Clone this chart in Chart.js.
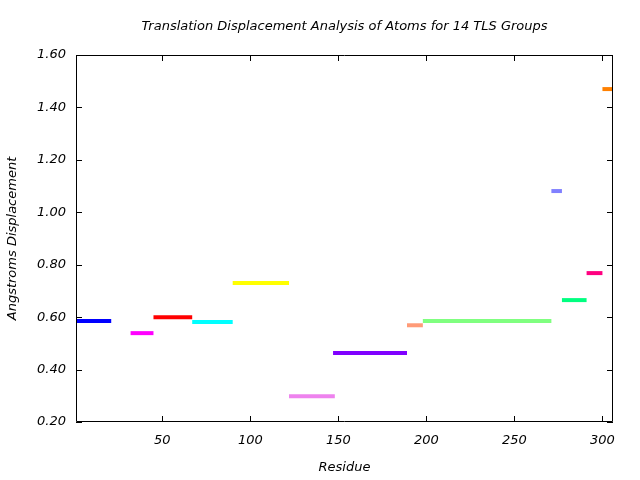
<!DOCTYPE html>
<html>
<head>
<meta charset="utf-8">
<script src="https://cdn.jsdelivr.net/npm/chart.js@4"></script>
<style>
html,body{margin:0;padding:0;background:#fff;}
#wrap{width:640px;height:480px;}
</style>
</head>
<body>
<div id="wrap"><canvas id="c" width="640" height="480"></canvas></div>
<script>
const chartTitle = "Translation Displacement Analysis of Atoms for 14 TLS Groups";
const xTitle = "Residue";
const yTitle = "Angstroms Displacement";
const groupStarts = [1, 32, 45, 67, 90, 122, 147, 189, 198, 271, 277, 291, 300];
const groupEnds   = [21, 45, 67, 90, 122, 148, 189, 198, 271, 277, 291, 300, 307];
const groupValues = [0.585, 0.539, 0.600, 0.581, 0.730, 0.298, 0.463, 0.569, 0.585, 1.081, 0.665, 0.768, 1.470];
const groupColors = ["#0000ff", "#ff00ff", "#ff0000", "#00ffff", "#ffff00", "#ee82ee", "#8000ff",
                     "#ff9b78", "#80ff80", "#8080ff", "#00ff80", "#ff0080", "#ff8000"];
const xTickValues = [50, 100, 150, 200, 250, 300];
const yTickValues = [0.2, 0.4, 0.6, 0.8, 1.0, 1.2, 1.4, 1.6];

const FONT = "DejaVu Sans";
const FS = 13;

const datasets = groupValues.map((v, i) => ({
  data: [{x: groupStarts[i], y: v}, {x: groupEnds[i], y: v}],
  borderColor: groupColors[i],
  backgroundColor: groupColors[i],
  borderWidth: 4,
  borderCapStyle: 'butt',
  pointRadius: 0,
  pointHoverRadius: 0,
  fill: false,
  tension: 0
}));

const framePlugin = {
  id: 'frame',
  afterDatasetsDraw(chart) {
    const ctx = chart.ctx;
    const a = chart.chartArea;
    const xs = chart.scales.x, ys = chart.scales.y;
    ctx.save();
    ctx.strokeStyle = '#000';
    ctx.lineWidth = 1;
    ctx.beginPath();
    ctx.rect(Math.round(a.left) + 0.5, Math.round(a.top) + 0.5,
             Math.round(a.right - a.left) - 1, Math.round(a.bottom - a.top) - 1);
    ctx.stroke();
    const L = 6;
    ctx.beginPath();
    xTickValues.forEach(v => {
      const px = Math.round(xs.getPixelForValue(v)) + 0.5;
      ctx.moveTo(px, a.bottom); ctx.lineTo(px, a.bottom - L);
      ctx.moveTo(px, a.top); ctx.lineTo(px, a.top + L);
    });
    yTickValues.forEach(v => {
      const py = Math.round(ys.getPixelForValue(v)) + 0.5;
      ctx.moveTo(a.left, py); ctx.lineTo(a.left + L, py);
      ctx.moveTo(a.right, py); ctx.lineTo(a.right - L, py);
    });
    ctx.stroke();
    ctx.fillStyle = '#000';
    ctx.font = 'italic ' + FS + 'px "' + FONT + '"';
    ctx.textAlign = 'center';
    ctx.textBaseline = 'middle';
    ctx.fillText(chartTitle, (a.left + a.right) / 2, 27);
    ctx.restore();
  }
};

new Chart(document.getElementById('c'), {
  type: 'line',
  data: { datasets },
  options: {
    responsive: false,
    animation: false,
    events: [],
    layout: { padding: { left: 0, right: 27, top: 55, bottom: 0 } },
    plugins: { legend: { display: false }, tooltip: { enabled: false }, title: { display: false } },
    scales: {
      x: {
        type: 'linear',
        min: 1, max: 306,
        grid: { display: false, drawTicks: false },
        border: { display: false },
        afterBuildTicks(s) { s.ticks = xTickValues.map(v => ({value: v})); },
        afterFit(s) { s.height = 58; },
        ticks: { color: '#000', padding: 11, maxRotation: 0, font: { family: FONT, size: FS, style: 'italic' } },
        title: { display: true, text: xTitle, color: '#000', padding: { top: 0, bottom: 5 },
                 font: { family: FONT, size: FS, style: 'italic' } }
      },
      y: {
        type: 'linear',
        min: 0.2, max: 1.6,
        grid: { display: false, drawTicks: false },
        border: { display: false },
        afterBuildTicks(s) { s.ticks = yTickValues.map(v => ({value: v})); },
        afterFit(s) { s.width = 76; },
        ticks: { color: '#000', padding: 10, callback: v => Number(v).toFixed(2),
                 font: { family: FONT, size: FS, style: 'italic' } },
        title: { display: true, text: yTitle, color: '#000', padding: { top: 5, bottom: 0 },
                 font: { family: FONT, size: FS, style: 'italic' } }
      }
    }
  },
  plugins: [framePlugin]
});
</script>
</body>
</html>
